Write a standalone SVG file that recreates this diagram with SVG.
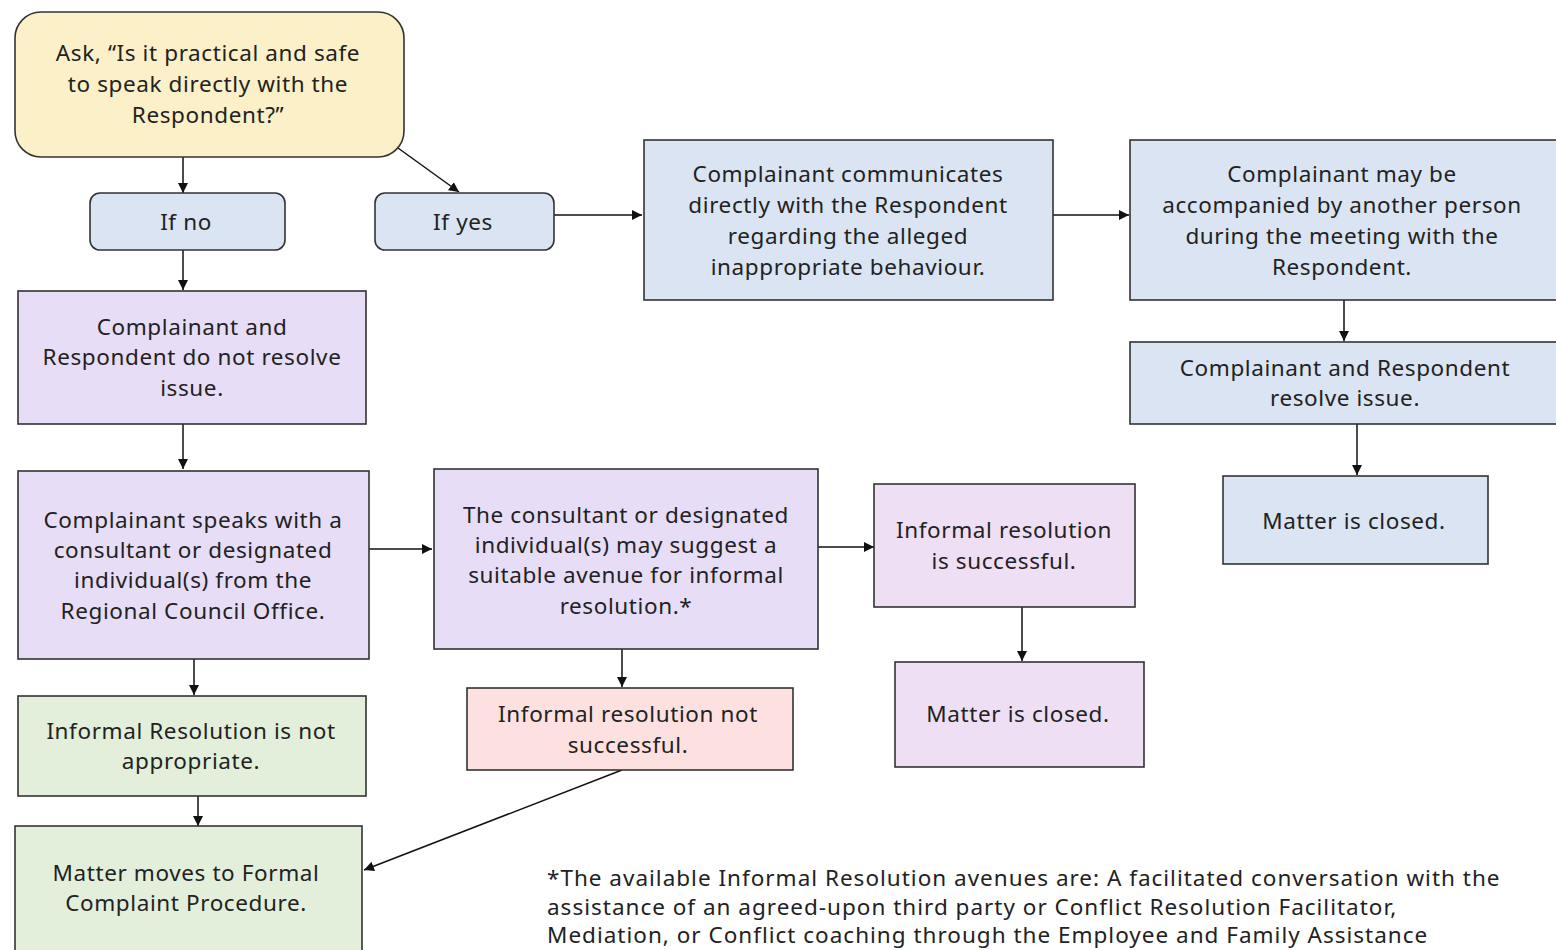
<svg xmlns="http://www.w3.org/2000/svg" width="1556" height="950" viewBox="0 0 1556 950">
<defs>
<marker id="ah" viewBox="0 0 10 10" refX="10" refY="5" markerWidth="10" markerHeight="10" markerUnits="userSpaceOnUse" orient="auto">
<path d="M0,0 L10,5 L0,10 z" fill="#111"/>
</marker>
</defs>
<style>
text{font-family:"Noto Sans","Open Sans","DejaVu Sans",sans-serif;font-size:22.5px;letter-spacing:0.6px;fill:#222;text-anchor:middle}
.foot{text-anchor:start;letter-spacing:1px}
.box{stroke:#333;stroke-width:1.6}
.yel{fill:#fcf0c8}
.blu{fill:#dbe4f3}
.lav{fill:#e8ddf6}
.pnk{fill:#efdff4}
.red{fill:#fde1e1}
.grn{fill:#e3efda}
.c{stroke:#111;stroke-width:1.5;fill:none;marker-end:url(#ah)}
</style>
<rect width="1556" height="950" fill="#ffffff"/>
<g id="connectors">
<line class="c" x1="183" y1="157" x2="183" y2="193"/>
<line class="c" x1="398" y1="148" x2="459" y2="192"/>
<line class="c" x1="554" y1="215" x2="642" y2="215"/>
<line class="c" x1="1053" y1="215" x2="1129" y2="215"/>
<line class="c" x1="1344" y1="300" x2="1344" y2="341"/>
<line class="c" x1="1357" y1="424" x2="1357" y2="475"/>
<line class="c" x1="183" y1="250" x2="183" y2="290"/>
<line class="c" x1="183" y1="424" x2="183" y2="469"/>
<line class="c" x1="366" y1="549" x2="432" y2="549"/>
<line class="c" x1="818" y1="547" x2="874" y2="547"/>
<line class="c" x1="1022" y1="607" x2="1022" y2="661"/>
<line class="c" x1="622" y1="649" x2="622" y2="687"/>
<line class="c" x1="194" y1="659" x2="194" y2="695"/>
<line class="c" x1="198" y1="796" x2="198" y2="826"/>
<line class="c" x1="622" y1="770" x2="364" y2="870"/>
</g>
<g id="n-ask">
<rect class="box yel" x="15" y="12" width="389" height="145" rx="26"/>
<text x="208" y="61">Ask, “Is it practical and safe</text>
<text x="208" y="92">to speak directly with the</text>
<text x="208" y="123">Respondent?”</text>
</g>
<g id="n-ifno">
<rect class="box blu" x="90" y="193" width="195" height="57" rx="10"/>
<text x="186" y="230">If no</text>
</g>
<g id="n-ifyes">
<rect class="box blu" x="375" y="193" width="179" height="57" rx="10"/>
<text x="463" y="230">If yes</text>
</g>
<g id="n-communicates">
<rect class="box blu" x="644" y="140" width="409" height="160"/>
<text x="848" y="182">Complainant communicates</text>
<text x="848" y="213">directly with the Respondent</text>
<text x="848" y="244">regarding the alleged</text>
<text x="848" y="275">inappropriate behaviour.</text>
</g>
<g id="n-accompanied">
<rect class="box blu" x="1130" y="140" width="430" height="160"/>
<text x="1342" y="182">Complainant may be</text>
<text x="1342" y="213">accompanied by another person</text>
<text x="1342" y="244">during the meeting with the</text>
<text x="1342" y="275">Respondent.</text>
</g>
<g id="n-resolve">
<rect class="box blu" x="1130" y="342" width="430" height="82"/>
<text x="1345" y="376">Complainant and Respondent</text>
<text x="1345" y="406">resolve issue.</text>
</g>
<g id="n-closed1">
<rect class="box blu" x="1223" y="476" width="265" height="88"/>
<text x="1354" y="529">Matter is closed.</text>
</g>
<g id="n-notresolve">
<rect class="box lav" x="18" y="291" width="348" height="133"/>
<text x="192" y="335">Complainant and</text>
<text x="192" y="365">Respondent do not resolve</text>
<text x="192" y="396">issue.</text>
</g>
<g id="n-speaks">
<rect class="box lav" x="18" y="471" width="351" height="188"/>
<text x="193" y="528">Complainant speaks with a</text>
<text x="193" y="558">consultant or designated</text>
<text x="193" y="588">individual(s) from the</text>
<text x="193" y="619">Regional Council Office.</text>
</g>
<g id="n-suggest">
<rect class="box lav" x="434" y="469" width="384" height="180"/>
<text x="626" y="523">The consultant or designated</text>
<text x="626" y="553">individual(s) may suggest a</text>
<text x="626" y="583">suitable avenue for informal</text>
<text x="626" y="614">resolution.*</text>
</g>
<g id="n-successful">
<rect class="box pnk" x="874" y="484" width="261" height="123"/>
<text x="1004" y="538">Informal resolution</text>
<text x="1004" y="569">is successful.</text>
</g>
<g id="n-closed2">
<rect class="box pnk" x="895" y="662" width="249" height="105"/>
<text x="1018" y="722">Matter is closed.</text>
</g>
<g id="n-notsuccessful">
<rect class="box red" x="467" y="688" width="326" height="82"/>
<text x="628" y="722">Informal resolution not</text>
<text x="628" y="753">successful.</text>
</g>
<g id="n-notappropriate">
<rect class="box grn" x="18" y="696" width="348" height="100"/>
<text x="191" y="739">Informal Resolution is not</text>
<text x="191" y="769">appropriate.</text>
</g>
<g id="n-formal">
<rect class="box grn" x="15" y="826" width="347" height="140"/>
<text x="186" y="881">Matter moves to Formal</text>
<text x="186" y="911">Complaint Procedure.</text>
</g>
<g id="footnote">
<text class="foot" x="547" y="886">*The available Informal Resolution avenues are: A facilitated conversation with the</text>
<text class="foot" x="547" y="915">assistance of an agreed-upon third party or Conflict Resolution Facilitator,</text>
<text class="foot" x="547" y="943">Mediation, or Conflict coaching through the Employee and Family Assistance</text>
</g>
</svg>
